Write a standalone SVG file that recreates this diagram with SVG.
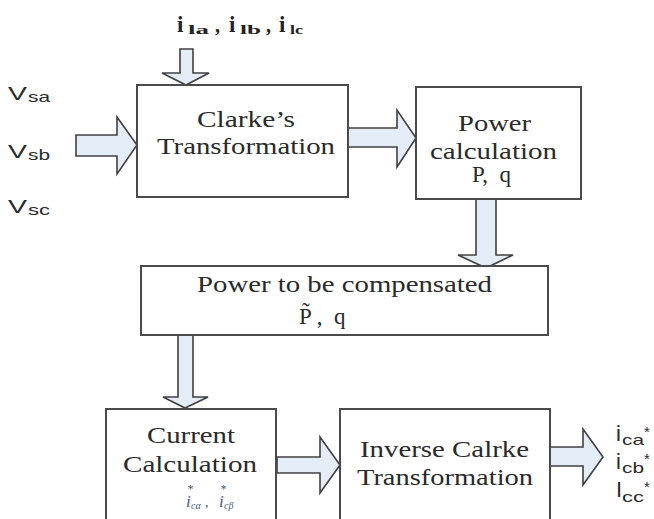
<svg xmlns="http://www.w3.org/2000/svg" width="654" height="519" viewBox="0 0 654 519">
<style>
.box{fill:#fff;stroke:#4a4a4a;stroke-width:2}
.arr{fill:#e4ecf8;stroke:#404040;stroke-width:1.6;stroke-linejoin:miter}
.t{font-family:"Liberation Serif",serif;font-size:23px;fill:#2a2a2a}
.s{font-family:"Liberation Sans",Arial,sans-serif;fill:#2a2a2a}
.b{font-family:"Liberation Serif",serif;font-weight:bold;fill:#222}
.m{font-family:"Liberation Serif",serif;font-style:italic;fill:#4a5a80}
</style>
<rect width="654" height="519" fill="#fff"/>
<g id="connectors">
<polygon class="arr" points="180,49 193,49 193,73 209,73 186,85 162,73 180,73"/>
<polygon class="arr" points="76,135 117,135 117,117 137,145 117,174 117,156 76,156"/>
<polygon class="arr" points="347,128 397,128 397,110 416,138 397,167 397,147 347,147"/>
<polygon class="arr" points="476,199 496,199 496,255 513,255 486,268 458,255 476,255"/>
<polygon class="arr" points="178,335 193,335 193,397 208,397 185,408 163,397 178,397"/>
<polygon class="arr" points="277,457 320,457 320,437 340,465 320,493 320,473 277,473"/>
<polygon class="arr" points="550,447 583,447 583,429 603,457 583,485 583,466 550,466"/>
</g>
<g id="inputs-i">
<text class="b" font-size="23" x="177" y="32">i</text>
<text class="b" font-size="13" x="188" y="34" textLength="21" lengthAdjust="spacingAndGlyphs">la</text>
<text class="b" font-size="20" x="215" y="32">,</text>
<text class="b" font-size="23" x="229" y="32">i</text>
<text class="b" font-size="13" x="240" y="34" textLength="21" lengthAdjust="spacingAndGlyphs">lb</text>
<text class="b" font-size="20" x="266" y="32">,</text>
<text class="b" font-size="23" x="279" y="32">i</text>
<text class="b" font-size="13" x="290" y="34" textLength="13" lengthAdjust="spacingAndGlyphs">lc</text>
</g>
<g id="inputs-v">
<text class="s" font-size="19" x="8" y="100" textLength="19" lengthAdjust="spacingAndGlyphs">V</text>
<text class="s" font-size="15" x="28" y="102" textLength="22" lengthAdjust="spacingAndGlyphs">sa</text>
<text class="s" font-size="19" x="8" y="158" textLength="19" lengthAdjust="spacingAndGlyphs">V</text>
<text class="s" font-size="15" x="28" y="160" textLength="22" lengthAdjust="spacingAndGlyphs">sb</text>
<text class="s" font-size="19" x="8" y="213" textLength="19" lengthAdjust="spacingAndGlyphs">V</text>
<text class="s" font-size="15" x="28" y="215" textLength="22" lengthAdjust="spacingAndGlyphs">sc</text>
</g>
<g id="clarke">
<rect class="box" x="137" y="85" width="211" height="112"/>
<text class="t" x="197" y="127" textLength="98" lengthAdjust="spacingAndGlyphs">Clarke’s</text>
<text class="t" x="157" y="154" textLength="178" lengthAdjust="spacingAndGlyphs">Transformation</text>
</g>
<g id="power">
<rect class="box" x="416" y="87" width="165" height="112"/>
<text class="t" x="458" y="131" textLength="73" lengthAdjust="spacingAndGlyphs">Power</text>
<text class="t" x="430" y="159" textLength="127" lengthAdjust="spacingAndGlyphs">calculation</text>
<text class="t" x="472" y="182" xml:space="preserve">P,  q</text>
</g>
<g id="compensated">
<rect class="box" x="141" y="266" width="407" height="69"/>
<text class="t" x="197" y="292" textLength="295" lengthAdjust="spacingAndGlyphs">Power to be compensated</text>
<text class="t" x="299" y="324" xml:space="preserve">P̃ ,  q</text>
</g>
<g id="current">
<rect class="box" x="106" y="409" width="170" height="120"/>
<text class="t" x="147" y="443" textLength="88" lengthAdjust="spacingAndGlyphs">Current</text>
<text class="t" x="123" y="472" textLength="134" lengthAdjust="spacingAndGlyphs">Calculation</text>
<text class="m" font-size="17" x="186" y="507">i</text>
<text class="m" font-size="12" x="187" y="493">*</text>
<text class="m" font-size="10" x="191" y="509">cα</text>
<text class="m" font-size="14" x="205" y="507">,</text>
<text class="m" font-size="17" x="219" y="507">i</text>
<text class="m" font-size="12" x="220" y="493">*</text>
<text class="m" font-size="10" x="224" y="509">cβ</text>
</g>
<g id="inverse">
<rect class="box" x="340" y="409" width="210" height="120"/>
<text class="t" x="360" y="457" textLength="169" lengthAdjust="spacingAndGlyphs">Inverse Calrke</text>
<text class="t" x="357" y="485" textLength="176" lengthAdjust="spacingAndGlyphs">Transformation</text>
</g>
<g id="outputs">
<text class="s" font-size="22" x="616" y="441">i</text>
<text class="s" font-size="15" x="622" y="445" textLength="22" lengthAdjust="spacingAndGlyphs">ca</text>
<text class="s" font-size="15" x="644" y="437">*</text>
<text class="s" font-size="22" x="616" y="469">i</text>
<text class="s" font-size="15" x="622" y="473" textLength="22" lengthAdjust="spacingAndGlyphs">cb</text>
<text class="s" font-size="15" x="644" y="464">*</text>
<text class="s" font-size="22" x="616" y="497">I</text>
<text class="s" font-size="15" x="622" y="502" textLength="22" lengthAdjust="spacingAndGlyphs">cc</text>
<text class="s" font-size="15" x="644" y="492">*</text>
</g>
</svg>
